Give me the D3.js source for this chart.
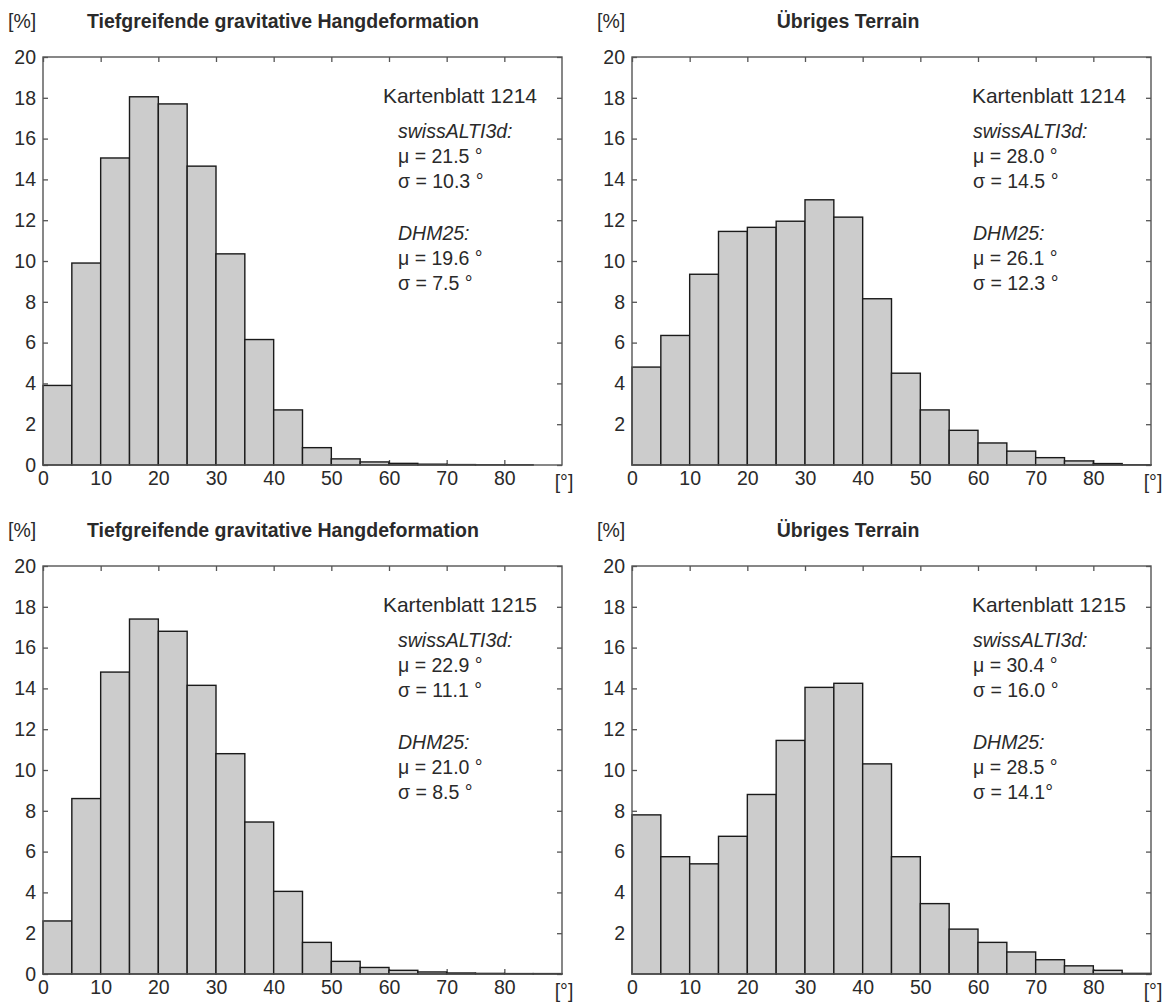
<!DOCTYPE html>
<html>
<head>
<meta charset="utf-8">
<script src="https://cdn.jsdelivr.net/npm/d3@7"></script>
<style>
  html, body { margin: 0; padding: 0; background: #fff; }
  svg text { font-family: "Liberation Sans", Arial, Helvetica, sans-serif; fill: #2a2a2a; }
</style>
</head>
<body>
<svg id="chart" width="1166" height="1002"></svg>
<script>
// Slope classes (lower bin edge, degrees), 5° wide
const binStarts = [0, 5, 10, 15, 20, 25, 30, 35, 40, 45, 50, 55, 60, 65, 70, 75, 80, 85];
const binWidth = 5;

// Share of area per slope class [%]
const tgh1214  = [3.9, 9.9, 15.05, 18.05, 17.7, 14.65, 10.35, 6.15, 2.7, 0.85, 0.3, 0.15, 0.08, 0.04, 0.02, 0.01, 0.01, 0.0];
const rest1214 = [4.8, 6.35, 9.35, 11.45, 11.65, 11.95, 13.0, 12.15, 8.15, 4.5, 2.7, 1.7, 1.08, 0.68, 0.36, 0.2, 0.07, 0.01];
const tgh1215  = [2.6, 8.6, 14.8, 17.4, 16.8, 14.15, 10.8, 7.45, 4.05, 1.55, 0.62, 0.32, 0.18, 0.1, 0.05, 0.03, 0.02, 0.02];
const rest1215 = [7.8, 5.75, 5.4, 6.75, 8.8, 11.45, 14.05, 14.25, 10.3, 5.75, 3.45, 2.2, 1.55, 1.08, 0.7, 0.4, 0.18, 0.03];

// Tick labels
const xTickValues = [0, 10, 20, 30, 40, 50, 60, 70, 80];
const yTickValuesWithZero = [0, 2, 4, 6, 8, 10, 12, 14, 16, 18, 20];
const yTickValuesNoZero = [2, 4, 6, 8, 10, 12, 14, 16, 18, 20];

// Panel titles and annotation texts
const titles = ["Tiefgreifende gravitative Hangdeformation", "Übriges Terrain",
                "Tiefgreifende gravitative Hangdeformation", "Übriges Terrain"];
const sheets = ["Kartenblatt 1214", "Kartenblatt 1214", "Kartenblatt 1215", "Kartenblatt 1215"];
const altiMu    = ["μ = 21.5 °", "μ = 28.0 °", "μ = 22.9 °", "μ = 30.4 °"];
const altiSigma = ["σ = 10.3 °", "σ = 14.5 °", "σ = 11.1 °", "σ = 16.0 °"];
const dhmMu     = ["μ = 19.6 °", "μ = 26.1 °", "μ = 21.0 °", "μ = 28.5 °"];
const dhmSigma  = ["σ = 7.5 °", "σ = 12.3 °", "σ = 8.5 °", "σ = 14.1°"];

const series = [tgh1214, rest1214, tgh1215, rest1215];

// Layout of the four panels
const colLeft = [43, 632];
const plotW = 519;
const rowTop = [57, 566];
const plotH = 408;
const statsOffset = [355, 341];   // left edge of statistics block from panel left
const titleCenter = [240, 216];   // title centre from panel left
const fontSize = 19.5;

const svg = d3.select("#chart");

series.forEach((vals, i) => {
  const col = i % 2, row = Math.floor(i / 2);
  const left = colLeft[col], top = rowTop[row];
  const right = left + plotW, bottom = top + plotH;

  const x = d3.scaleLinear().domain([0, 90]).range([left, right]);
  const y = d3.scaleLinear().domain([0, 20]).range([bottom, top]);

  const g = svg.append("g");

  // axes (ticks point inward)
  const axisStyle = sel => {
    sel.select(".domain").remove();
    sel.selectAll(".tick line").attr("stroke", "#555").attr("stroke-width", 1.3);
    sel.selectAll(".tick text").attr("font-size", fontSize).attr("fill", "#2a2a2a")
       .style("font-family", '"Liberation Sans", Arial, sans-serif');
  };

  g.append("g").attr("transform", `translate(0,${bottom})`)
    .call(d3.axisBottom(x).tickValues(xTickValues).tickSize(-5).tickPadding(6).tickFormat(d3.format("d")))
    .call(axisStyle);
  g.append("g").attr("transform", `translate(0,${top})`)
    .call(d3.axisTop(x).tickValues(xTickValues).tickSize(-5).tickFormat(""))
    .call(axisStyle);
  g.append("g").attr("transform", `translate(${left},0)`)
    .call(d3.axisLeft(y).tickValues(col === 0 ? yTickValuesWithZero : yTickValuesNoZero)
      .tickSize(-5).tickPadding(7).tickFormat(d3.format("d")))
    .call(axisStyle);
  g.append("g").attr("transform", `translate(${right},0)`)
    .call(d3.axisRight(y).tickValues(yTickValuesWithZero).tickSize(-5).tickFormat(""))
    .call(axisStyle);

  // histogram bars
  g.append("g").selectAll("rect")
    .data(vals)
    .join("rect")
    .attr("x", (d, k) => x(binStarts[k]))
    .attr("width", (d, k) => x(binStarts[k] + binWidth) - x(binStarts[k]))
    .attr("y", d => y(d))
    .attr("height", d => y(0) - y(d))
    .attr("fill", "#cccccc")
    .attr("stroke", "#1a1a1a")
    .attr("stroke-width", 1.4);

  // frame
  g.append("rect")
    .attr("x", left).attr("y", top)
    .attr("width", plotW).attr("height", plotH)
    .attr("fill", "none").attr("stroke", "#555").attr("stroke-width", 1.4);

  // unit labels
  g.append("text")
    .attr("x", left - 35).attr("y", top - 36)
    .attr("dominant-baseline", "central")
    .attr("font-size", fontSize)
    .text("[%]");
  g.append("text")
    .attr("x", right + 2).attr("y", bottom + 17)
    .attr("text-anchor", "middle")
    .attr("dominant-baseline", "central")
    .attr("font-size", fontSize)
    .text("[°]");

  // title
  g.append("text")
    .attr("x", left + titleCenter[col]).attr("y", top - 36)
    .attr("text-anchor", "middle")
    .attr("dominant-baseline", "central")
    .attr("font-size", fontSize)
    .attr("font-weight", "bold")
    .text(titles[i]);

  // annotation block
  const sx = left + statsOffset[col];
  g.append("text")
    .attr("x", right - 25).attr("y", top + 38)
    .attr("text-anchor", "end")
    .attr("dominant-baseline", "central")
    .attr("font-size", 21)
    .text(sheets[i]);

  const lines = [
    { t: "swissALTI3d:", dy: 74, italic: true },
    { t: altiMu[i], dy: 99 },
    { t: altiSigma[i], dy: 124 },
    { t: "DHM25:", dy: 176, italic: true },
    { t: dhmMu[i], dy: 201 },
    { t: dhmSigma[i], dy: 226 }
  ];
  g.append("g").selectAll("text")
    .data(lines)
    .join("text")
    .attr("x", sx)
    .attr("y", d => top + d.dy)
    .attr("dominant-baseline", "central")
    .attr("font-size", fontSize)
    .attr("font-style", d => d.italic ? "italic" : "normal")
    .text(d => d.t);
});
</script>
</body>
</html>
